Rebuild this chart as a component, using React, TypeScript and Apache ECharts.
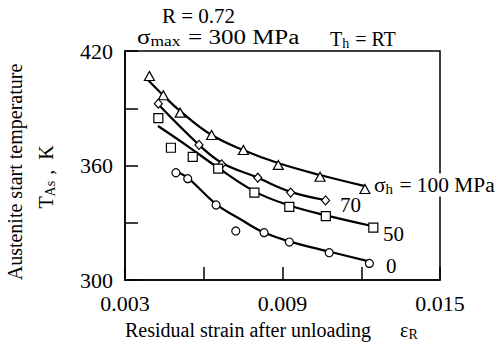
import React, { useEffect, useRef } from "react";
import * as echarts from "echarts";

// Measured markers (x = residual strain, y = austenite start temperature K)
const x100 = [0.00393, 0.00446, 0.0051, 0.0063, 0.00751, 0.00884, 0.01043, 0.01214];
const y100 = [406.9, 396.8, 387.7, 376.0, 368.1, 360.3, 354.1, 347.7];
const x70 = [0.00427, 0.00582, 0.00668, 0.00806, 0.00931, 0.01064];
const y70 = [392.4, 370.8, 360.6, 353.6, 345.8, 341.7];
const x50 = [0.00427, 0.00475, 0.00558, 0.00655, 0.00793, 0.00926, 0.01065, 0.01246];
const y50 = [384.8, 369.3, 364.5, 358.4, 345.8, 338.3, 333.5, 327.4];
const x0 = [0.00494, 0.00539, 0.00647, 0.00722, 0.0083, 0.00926, 0.01078, 0.01231];
const y0 = [356.2, 353.1, 339.3, 325.7, 324.8, 319.9, 314.3, 308.7];

// Fitted curves
const cx100 = [0.003876, 0.004448, 0.005095, 0.006238, 0.007495, 0.008829, 0.010429, 0.012143];
const cy100 = [404.8, 396.9, 388.6, 376.5, 368.1, 361.3, 355.0, 349.2];
const cx70 = [0.004219, 0.005781, 0.006695, 0.007952, 0.009286, 0.010619];
const cy70 = [392.7, 371.3, 361.3, 354.2, 346.3, 341.9];
const cx50 = [0.004257, 0.005381, 0.006505, 0.007952, 0.00921, 0.010619, 0.01241];
const cy50 = [380.7, 370.2, 359.2, 346.3, 339.3, 334.0, 328.3];
const cx0 = [0.004905, 0.0054, 0.006467, 0.007381, 0.008257, 0.009286, 0.01081, 0.012333];
const cy0 = [357.1, 353.4, 339.8, 332.0, 325.1, 320.1, 314.8, 309.6];

const xTickLabels = ["0.003", "0.009", "0.015"];
const yTickLabels = ["300", "360", "420"];

const FONT = "Liberation Serif";

const zip = (xs: number[], ys: number[]) => xs.map((x, i) => [x, ys[i]]);

export default function App() {
  const ref = useRef<HTMLDivElement>(null);
  useEffect(() => {
    if (!ref.current) return;
    const chart = echarts.init(ref.current, undefined, { renderer: "svg" });
    const rich = {
      a: { fontSize: 20, fontFamily: FONT, fill: "#000", color: "#000" },
      s: { fontSize: 14, fontFamily: FONT, fill: "#000", color: "#000", padding: [9, 1, 0, 0] },
    };
    const txt = (text: string, x: number, y: number, extra: any = {}) => ({
      type: "text",
      x,
      y,
      z: 100,
      rotation: extra.rotation || 0,
      scaleX: extra.scaleX || 1,
      style: {
        text,
        fontSize: extra.fontSize || 20,
        fontFamily: FONT,
        fill: "#000",
        align: extra.align || "left",
        verticalAlign: "middle",
        rich,
        ...(extra.style || {}),
      },
    });
    const line = (xs: number[], ys: number[]) => ({
      type: "line",
      data: zip(xs, ys),
      showSymbol: false,
      smooth: 0.4,
      lineStyle: { color: "#000", width: 2.2 },
      z: 2,
    });
    const scat = (xs: number[], ys: number[], symbol: string, size: any) => ({
      type: "scatter",
      data: zip(xs, ys),
      symbol,
      symbolSize: size,
      itemStyle: { color: "#fff", borderColor: "#000", borderWidth: 1.2, opacity: 1 },
      z: 3,
    });
    chart.setOption({
      animation: false,
      backgroundColor: "#fff",
      textStyle: { fontFamily: FONT },
      grid: {
        left: 125,
        right: 62,
        top: 51,
        bottom: 73,
        show: true,
        borderColor: "#000",
        borderWidth: 1.5,
        backgroundColor: "transparent",
      },
      xAxis: {
        type: "value",
        min: 0.003,
        max: 0.015,
        interval: 0.003,
        splitLine: { show: false },
        axisLine: { lineStyle: { color: "#000", width: 1.5 } },
        axisTick: { inside: true, length: 13, lineStyle: { color: "#000", width: 1.5 } },
        axisLabel: {
          color: "#000",
          fontSize: 22,
          fontFamily: FONT,
          margin: 12,
          formatter: (v: number) => (xTickLabels.includes(v.toFixed(3)) ? v.toFixed(3) : ""),
        },
      },
      yAxis: {
        type: "value",
        min: 300,
        max: 420,
        interval: 30,
        splitLine: { show: false },
        axisLine: { lineStyle: { color: "#000", width: 1.5 } },
        axisTick: { inside: true, length: 13, lineStyle: { color: "#000", width: 1.5 } },
        axisLabel: {
          color: "#000",
          fontSize: 22,
          fontFamily: FONT,
          margin: 12,
          formatter: (v: number) => (yTickLabels.includes(String(Math.round(v))) ? String(Math.round(v)) : ""),
        },
      },
      series: [
        line(cx100, cy100),
        line(cx70, cy70),
        line(cx50, cy50),
        line(cx0, cy0),
        scat(x100, y100, "triangle", [10, 9]),
        scat(x70, y70, "diamond", [8, 9]),
        scat(x50, y50, "rect", 9),
        scat(x0, y0, "circle", 8),
      ],
      graphic: [
        txt("R = 0.72", 162, 16, { scaleX: 1.05 }),
        txt("{a|σ}{s|max}{a| = 300 MPa}", 137, 37, { scaleX: 1.25 }),
        txt("{a|T}{s|h}{a| = RT}", 330, 39),
        txt("{a|σ}{s|h}{a| = 100 MPa}", 374, 185, { scaleX: 1.07, style: { backgroundColor: "#fff" } }),
        txt("70", 340, 205, { fontSize: 21 }),
        txt("50", 383, 234, { fontSize: 21 }),
        txt("0", 386, 266, { fontSize: 21 }),
        txt("Residual strain after unloading", 125, 330, { fontSize: 20 }),
        txt("{a|ε}{s|R}", 400, 330),
        txt("Austenite start temperature", 15, 172, { rotation: Math.PI / 2, align: "center", fontSize: 20 }),
        txt("{a|T}{s|As}{a| ,  K}", 46, 177, { rotation: Math.PI / 2, align: "center" }),
      ],
    });
    return () => chart.dispose();
  }, []);
  return (
    <div
      ref={ref}
      style={{ position: "absolute", left: 0, top: 0, width: 502, height: 353, background: "#fff" }}
    />
  );
}
